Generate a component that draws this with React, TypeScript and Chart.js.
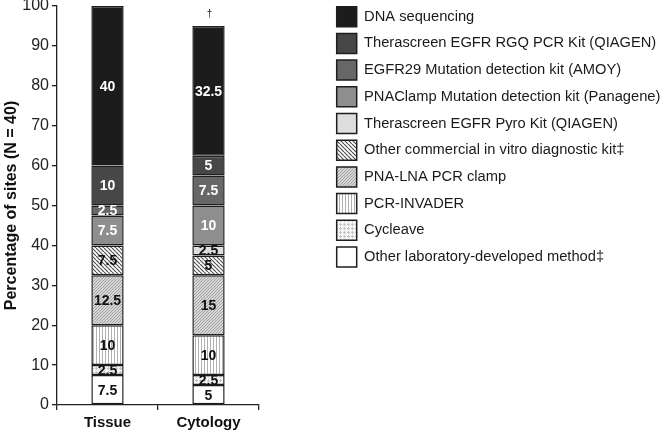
import React, { useEffect, useRef } from "react";
import { Chart, registerables } from "chart.js";

Chart.register(...registerables);

const categories = ["Tissue", "Cytology"];

// Stacked from bottom to top
const seriesNames = [
  "Other laboratory-developed method\u2021",
  "Cycleave",
  "PCR-INVADER",
  "PNA-LNA PCR clamp",
  "Other commercial in vitro diagnostic kit\u2021",
  "Therascreen EGFR Pyro Kit (QIAGEN)",
  "PNAClamp Mutation detection kit (Panagene)",
  "EGFR29 Mutation detection kit (AMOY)",
  "Therascreen EGFR RGQ PCR Kit (QIAGEN)",
  "DNA sequencing",
];

const otherLab = [7.5, 5];
const cycleave = [2.5, 2.5];
const pcrInvader = [10, 10];
const pnaLna = [12.5, 15];
const otherCommercial = [7.5, 5];
const pyro = [0, 2.5];
const pnaClamp = [7.5, 10];
const amoy = [2.5, 7.5];
const rgq = [10, 5];
const dnaSeq = [40, 32.5];

const seriesValues = [otherLab, cycleave, pcrInvader, pnaLna, otherCommercial, pyro, pnaClamp, amoy, rgq, dnaSeq];

const stackNotes = ["", "\u2020"];
const yTicks = [0, 10, 20, 30, 40, 50, 60, 70, 80, 90, 100];

const FONT = "'Liberation Sans', Arial, Helvetica, sans-serif";

function makePattern(kind: string): CanvasPattern | string {
  const c = document.createElement("canvas");
  const g = c.getContext("2d");
  if (!g) return "#fff";
  let s = 4;
  if (kind === "back") {
    s = 4; c.width = s; c.height = s;
    g.fillStyle = "#ffffff"; g.fillRect(0, 0, s, s);
    g.strokeStyle = "#505050"; g.lineWidth = 1.2;
    g.beginPath();
    for (const k of [-s, 0, s]) { g.moveTo(k, 0); g.lineTo(k + s, s); }
    g.stroke();
  } else if (kind === "fwd") {
    s = 3; c.width = s; c.height = s;
    g.fillStyle = "#d6d6d6"; g.fillRect(0, 0, s, s);
    g.strokeStyle = "#9c9c9c"; g.lineWidth = 0.9;
    g.beginPath();
    for (const k of [-s, 0, s]) { g.moveTo(k, s); g.lineTo(k + s, 0); }
    g.stroke();
  } else if (kind === "vert") {
    s = 3; c.width = s; c.height = s;
    g.fillStyle = "#ffffff"; g.fillRect(0, 0, s, s);
    g.fillStyle = "#b0b0b0"; g.fillRect(0, 0, 1, s);
  } else if (kind === "dots") {
    s = 4; c.width = s; c.height = s;
    g.fillStyle = "#f4f4f4"; g.fillRect(0, 0, s, s);
    g.fillStyle = "#c4c4c4"; g.fillRect(0, 0, 1, s); g.fillRect(0, 0, s, 1);
    g.fillStyle = "#ffffff"; g.fillRect(0, 2, 1, 1); g.fillRect(2, 0, 1, 1);
  }
  const p = g.createPattern(c, "repeat");
  return p || "#fff";
}

export default function App() {
  const ref = useRef<HTMLCanvasElement | null>(null);

  useEffect(() => {
    if (!ref.current) return;
    Chart.defaults.font.family = FONT;
    const fills: (CanvasPattern | string)[] = [
      "#ffffff",
      makePattern("dots"),
      makePattern("vert"),
      makePattern("fwd"),
      makePattern("back"),
      "#dedede",
      "#8e8e8e",
      "#676767",
      "#474747",
      "#1c1c1c",
    ];
    const labelColors = ["#111", "#111", "#111", "#111", "#111", "#111", "#fff", "#fff", "#fff", "#fff"];

    const segLabels = {
      id: "segLabels",
      afterDatasetsDraw(chart: any) {
        const ctx = chart.ctx;
        ctx.save();
        ctx.font = `bold 14px ${FONT}`;
        ctx.textAlign = "center";
        ctx.textBaseline = "middle";
        chart.data.datasets.forEach((ds: any, i: number) => {
          const meta = chart.getDatasetMeta(i);
          meta.data.forEach((bar: any, j: number) => {
            const v = ds.data[j];
            if (!v) return;
            const { x, y, base } = bar.getProps(["x", "y", "base"], true);
            ctx.fillStyle = labelColors[i];
            ctx.fillText(String(v), x, (y + base) / 2 + 1);
          });
        });
        const yScale = chart.scales.y;
        const xScale = chart.scales.x;
        ctx.font = `10px ${FONT}`;
        ctx.fillStyle = "#222";
        stackNotes.forEach((n, j) => {
          if (!n) return;
          let total = 0;
          seriesValues.forEach((arr) => (total += arr[j]));
          ctx.fillText(n, xScale.getPixelForValue(j) + 1, yScale.getPixelForValue(total) - 12);
        });
        ctx.restore();
      },
    };

    const chart = new Chart(ref.current, {
      type: "bar",
      data: {
        labels: categories,
        datasets: seriesNames.map((name, i) => ({
          label: name,
          data: seriesValues[i],
          backgroundColor: fills[i] as any,
          borderColor: "#1e1e1e",
          borderWidth: 1.5,
          borderSkipped: false,
          barPercentage: 0.32,
          categoryPercentage: 1,
        })),
      },
      options: {
        responsive: false,
        animation: false,
        layout: { padding: { top: 0, left: 0, right: 0, bottom: 0 } },
        plugins: {
          tooltip: { enabled: false },
          legend: {
            position: "right",
            align: "start",
            reverse: true,
            maxWidth: 336,
            labels: {
              boxWidth: 20,
              boxHeight: 20,
              padding: 6.7,
              color: "#1a1a1a",
              font: { size: 14.7, family: FONT },
            },
          },
        },
        scales: {
          x: {
            stacked: true,
            offset: true,
            grid: { offset: true, drawOnChartArea: false, drawTicks: true, tickLength: 5, color: "#222", lineWidth: 1.3 },
            border: { display: true, color: "#222", width: 1.3 },
            ticks: { color: "#111", padding: 4, font: { size: 15, weight: "bold", family: FONT } },
            afterFit: (s: any) => { s.height = 27; s.paddingLeft = 0; s.paddingRight = 0; },
          },
          y: {
            stacked: true,
            min: 0,
            max: 100,
            afterBuildTicks: (s: any) => { s.ticks = yTicks.map((v) => ({ value: v })); },
            grid: { drawOnChartArea: false, drawTicks: true, tickLength: 5, color: "#222", lineWidth: 1.3 },
            border: { display: true, color: "#222", width: 1.3 },
            ticks: { color: "#222", padding: 3, font: { size: 16, family: FONT } },
            title: {
              display: true,
              text: "Percentage of sites (N = 40)",
              color: "#111",
              padding: { top: 2, bottom: 2 },
              font: { size: 16, weight: "bold", family: FONT },
            },
            afterFit: (s: any) => { s.width = 57; s.paddingTop = 6; s.paddingBottom = 0; },
          },
          spacer: {
            type: "linear",
            position: "right",
            display: true,
            grid: { display: false },
            border: { display: false },
            ticks: { display: false },
            afterFit: (s: any) => { s.width = 71; },
          },
        },
      } as any,
      plugins: [segLabels],
    });
    return () => chart.destroy();
  }, []);

  return (
    <div style={{ position: "absolute", left: 0, top: 0, width: 666, height: 432 }}>
      <canvas ref={ref} width={666} height={432} />
    </div>
  );
}
